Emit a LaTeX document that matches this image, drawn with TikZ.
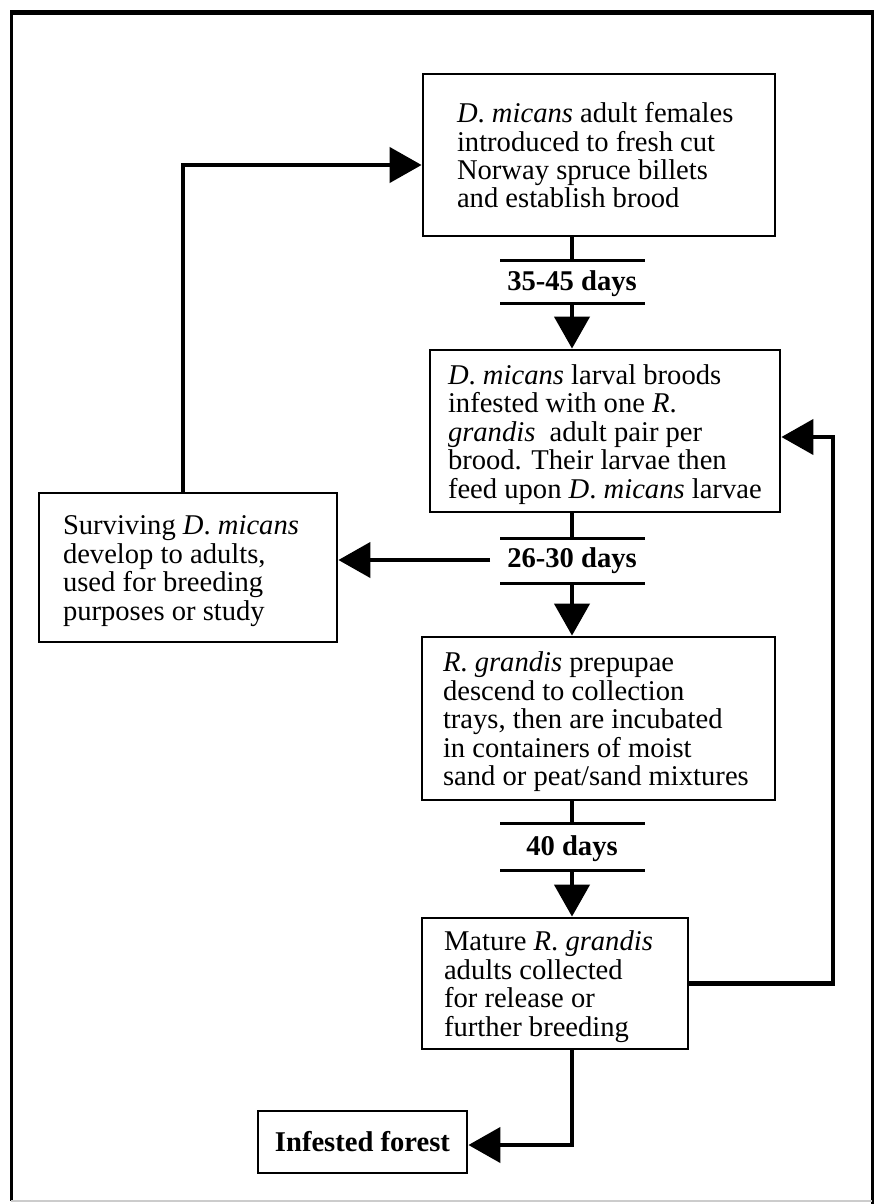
\documentclass[tikz,border=0pt]{standalone}
\usepackage{fontspec}
\setmainfont{Liberation Serif}
\usetikzlibrary{arrows.meta}
\newcommand{\dmic}{\textit{D}. \textit{micans}}
\newcommand{\rgra}{\textit{R}. \textit{grandis}}
% left aligned lines in a block of fixed width
\newcommand{\stagetext}[2]{\raisebox{-2.2pt}[\height][\depth]{\makebox[#1][l]{\begin{tabular}{@{}l@{}}#2\end{tabular}}}}
\begin{document}
\begin{tikzpicture}[x=0.5pt,y=-0.5pt,
    stage/.style={draw,line width=1.4pt,inner ysep=0pt,
      font=\fontsize{14.3}{14.2}\selectfont},
    days/.style={font=\fontsize{14.3}{14.2}\selectfont\bfseries,inner sep=0pt},
    bar/.style={line width=1.5pt},
    wire/.style={line width=2.2pt},
    flow/.style={line width=2.2pt,-{Triangle[length=16pt,width=17.5pt]}}]
  \useasboundingbox (0,0) rectangle (874,1204);
  % frame
  \draw[line width=2.5pt] (10,13) -- (874,13);
  \draw[line width=1.5pt] (11,13) -- (11,1201);
  \draw[line width=1.5pt] (872,13) -- (872,1204);
  \draw[gray!40,line width=1pt] (11,1201) -- (872,1201);
  % stages
  \node[stage,inner xsep=17pt,minimum height=81pt] (adult) at (599,155)
    {\stagetext{142pt}{\dmic{} adult females\\introduced to fresh cut\\Norway spruce billets\\and establish brood}};
  \node[stage,inner xsep=9pt,minimum height=81pt] (larva) at (605,431)
    {\stagetext{157pt}{\dmic{} larval broods\\infested with one \textit{R}.\\\textit{grandis}\ \ adult pair per\\brood. Their larvae then\\feed upon \dmic{} larvae}};
  \node[stage,inner xsep=10.5pt,minimum height=81.5pt] (prepupa) at (598.5,718.5)
    {\stagetext{155.5pt}{\rgra{} prepupae\\descend to collection\\trays, then are incubated\\in containers of moist\\sand or peat/sand mixtures}};
  \node[stage,inner xsep=11pt,minimum height=65.5pt] (mature) at (555,983.5)
    {\stagetext{111pt}{Mature \rgra\\adults collected\\for release or\\further breeding}};
  \node[stage,inner xsep=12pt,minimum height=74.5pt] (surv) at (188,567.5)
    {\stagetext{125pt}{Surviving \dmic\\develop to adults,\\used for breeding\\purposes or study}};
  \node[stage,minimum width=104.5pt,minimum height=31pt,font=\fontsize{14.3}{14.2}\selectfont\bfseries] (forest) at (362.5,1142)
    {Infested forest};
  % durations
  \node[days] (d1) at (572,284) {35-45 days};
  \node[days] (d2) at (572,561) {26-30 days};
  \node[days] (d3) at (572,849) {40 days};
  \foreach \y in {260,303,538,583,823,870}
    \draw[bar] (500,\y) -- (645,\y);
  \coordinate (t1) at (572,260);
  \coordinate (b1) at (572,303);
  \coordinate (t2) at (572,538);
  \coordinate (b2) at (572,583);
  \coordinate (t3) at (572,823);
  \coordinate (b3) at (572,870);
  \coordinate (split) at (490,560);
  \coordinate (loop) at (183,165);
  \coordinate (back) at (833,437);
  \coordinate (out) at (572,1145);
  % connectors
  \draw[wire] (t1 |- adult.south) -- (t1);
  \draw[flow] (b1) -- (b1 |- larva.north);
  \draw[wire] (t2 |- larva.south) -- (t2);
  \draw[flow] (b2) -- (b2 |- prepupa.north);
  \draw[wire] (t3 |- prepupa.south) -- (t3);
  \draw[flow] (b3) -- (b3 |- mature.north);
  \draw[flow] (split) -- (surv.east |- split);
  \draw[flow] (loop |- surv.north) -- (loop) -- (adult.west |- loop);
  \draw[flow] (mature.east) -- (mature.east -| back) -- (back) -- (larva.east |- back);
  \draw[flow] (out |- mature.south) -- (out) -- (forest.east |- out);
\end{tikzpicture}
\end{document}
